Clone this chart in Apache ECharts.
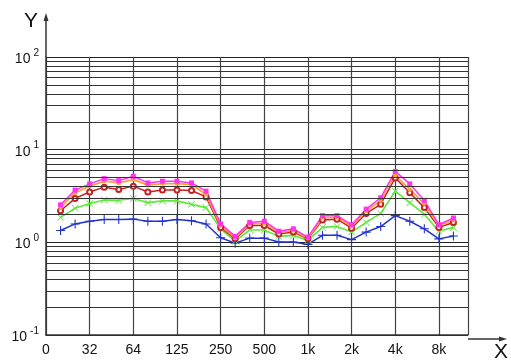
<!DOCTYPE html>
<html>
<head>
<meta charset="utf-8">
<script src="https://cdn.jsdelivr.net/npm/echarts@6/dist/echarts.min.js"></script>
<style>html,body{margin:0;padding:0;background:#fff}#c{width:511px;height:363px}</style>
</head>
<body>
<div id="c"></div>
<script>
// 1/3-octave band centres (positions 1..28 on the axis; position 0 is the "0" label)
const bands = ['20','25','31.5','40','50','63','80','100','125','160','200','250','315','400','500','630','800','1k','1.25k','1.6k','2k','2.5k','3.15k','4k','5k','6.3k','8k','10k'];
const xTickLabels = ['0','32','64','125','250','500','1k','2k','4k','8k'];

const blueVals    = [1.34,1.58,1.69,1.76,1.76,1.78,1.69,1.69,1.76,1.71,1.58,1.12,0.98,1.11,1.11,1.01,1.01,0.95,1.19,1.19,1.07,1.29,1.48,1.94,1.69,1.40,1.09,1.17];
const greenVals   = [1.86,2.33,2.62,2.87,2.84,2.98,2.68,2.80,2.80,2.57,2.37,1.40,1.03,1.36,1.36,1.16,1.19,1.05,1.45,1.48,1.29,1.64,2.05,3.57,2.68,2.01,1.32,1.45];
const redVals     = [2.19,2.98,3.49,3.94,3.72,4.04,3.49,3.66,3.66,3.63,3.09,1.45,1.09,1.52,1.52,1.23,1.29,1.09,1.74,1.78,1.42,2.05,2.57,4.95,3.43,2.37,1.45,1.64];
const orangeVals  = [2.37,3.43,4.04,4.57,4.38,4.75,4.14,4.31,4.31,4.20,3.29,1.52,1.12,1.58,1.60,1.29,1.34,1.11,1.84,1.86,1.49,2.18,2.82,5.29,3.72,2.62,1.51,1.73];
const magentaVals = [2.54,3.66,4.27,4.87,4.63,5.16,4.38,4.57,4.57,4.38,3.57,1.58,1.16,1.64,1.69,1.32,1.40,1.14,1.94,1.94,1.55,2.28,3.03,5.83,4.27,2.84,1.55,1.83];

const decades = [0.1, 1, 10];
const multipliers = [2,3,4,5,6,7,8,9];
const minorLines = [];
decades.forEach(d => multipliers.forEach(m => minorLines.push({ yAxis: +(d*m).toPrecision(3) })));

function pairs(vals){ return vals.map((v,i)=>[i+1, v]); }

const plusPath = 'path://M0,4.4H10V5.6H0Z M4.4,0H5.6V10H4.4Z';
const crossPath = 'path://M0.8,0L5,4.2L9.2,0L10,0.8L5.8,5L10,9.2L9.2,10L5,5.8L0.8,10L0,9.2L4.2,5L0,0.8Z';

const chart = echarts.init(document.getElementById('c'));
const font = 'Liberation Sans, Arial, sans-serif';
chart.setOption({
  animation: false,
  backgroundColor: '#fff',
  grid: { left: 46, right: 43, top: 57, bottom: 24, containLabel: false },
  xAxis: {
    type: 'value', min: 0, max: 29, interval: 3,
    name: 'X', nameLocation: 'end', nameGap: 26,
    nameTextStyle: { fontSize: 21, color: '#111', fontFamily: font, verticalAlign: 'top', padding: [7,0,0,0] },
    axisLine: { show: true, lineStyle: { color: '#333', width: 1.5 } },
    axisTick: { show: false },
    axisLabel: {
      color: '#111', fontSize: 14, fontFamily: font, margin: 8,
      formatter: v => (v % 3 === 0 && v/3 < xTickLabels.length) ? xTickLabels[v/3] : ''
    },
    splitLine: { show: true, lineStyle: { color: '#444', width: 1.2 } }
  },
  yAxis: {
    type: 'log', logBase: 10, min: 0.1, max: 100,
    name: 'Y', nameLocation: 'end', nameGap: 25,
    nameTextStyle: { fontSize: 21, color: '#111', fontFamily: font, align: 'right', padding: [0,8,0,0] },
    axisLine: { show: true, lineStyle: { color: '#333', width: 1.5 } },
    axisTick: { show: false },
    axisLabel: {
      margin: 7, color: '#111', fontFamily: font,
      formatter: v => '{b|10}{s|' + Math.round(Math.log10(v)) + '}',
      rich: {
        b: { fontSize: 14, fontFamily: font, color: '#111', lineHeight: 18, verticalAlign: 'bottom' },
        s: { fontSize: 10, fontFamily: font, color: '#111', verticalAlign: 'top', padding: [0,0,8,3] }
      }
    },
    splitLine: { show: true, lineStyle: { color: '#222', width: 1.2 } }
  },
  graphic: [
    { type: 'line', silent: true, shape: { x1: 46, y1: 57, x2: 46, y2: 17 }, style: { stroke: '#333', lineWidth: 1.5 } },
    { type: 'polygon', silent: true, shape: { points: [[46,13],[43.5,21],[48.5,21]] }, style: { fill: '#333' } },
    { type: 'line', silent: true, shape: { x1: 468, y1: 339, x2: 503, y2: 339 }, style: { stroke: '#333', lineWidth: 1.5 } },
    { type: 'polygon', silent: true, shape: { points: [[507,339],[499,336.5],[499,341.5]] }, style: { fill: '#333' } }
  ],
  series: [
    { name: 'grid', type: 'line', data: [], silent: true,
      markLine: { silent: true, symbol: ['none','none'], label: { show: false },
        lineStyle: { color: '#333', width: 1, type: 'solid' }, data: minorLines } },
    { name: 'blue', type: 'line', data: pairs(blueVals), color: '#2233cc',
      symbol: plusPath, symbolSize: 9, lineStyle: { width: 1.5 } },
    { name: 'green', type: 'line', data: pairs(greenVals), color: '#5ee83c',
      symbol: crossPath, symbolSize: 7, lineStyle: { width: 1.6 } },
    { name: 'red', type: 'line', data: pairs(redVals), color: '#c42222',
      symbol: 'emptyCircle', symbolSize: 5, itemStyle: { borderWidth: 1.2 }, lineStyle: { width: 1.5 } },
    { name: 'orange', type: 'line', data: pairs(orangeVals), color: '#ffa040',
      symbol: 'rect', symbolSize: 4, lineStyle: { width: 1.8 } },
    { name: 'magenta', type: 'line', data: pairs(magentaVals), color: '#ff33ee',
      symbol: 'rect', symbolSize: 5, lineStyle: { width: 1.5 } }
  ]
});
</script>
</body>
</html>
